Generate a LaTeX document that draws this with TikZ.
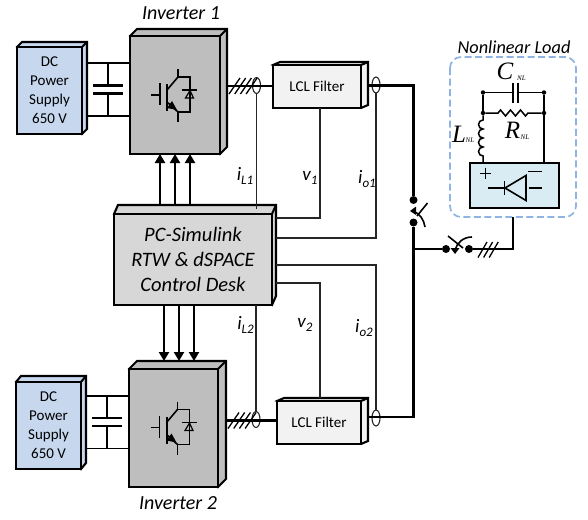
\documentclass[tikz,border=0pt]{standalone}
\usepackage{fontspec}
\setmainfont{Carlito}
\newfontfamily\serifnl{Liberation Serif}
\usetikzlibrary{arrows.meta,shapes.geometric}
\definecolor{dcblue}{RGB}{198,215,238}
\definecolor{invgray}{RGB}{190,190,190}
\definecolor{ctrlgray}{RGB}{215,215,215}
\definecolor{lclfill}{RGB}{242,242,242}
\definecolor{loadblue}{RGB}{143,180,228}
\definecolor{rectfill}{RGB}{218,236,243}
\newcommand{\sigsub}[2]{#1\raisebox{-3.5pt}{\fontsize{13}{13}\selectfont #2}}
\tikzset{
  x=1pt,y=-1pt,
  edge/.style={draw=black,line width=2.1pt,line join=miter},
  wire/.style={draw=black!85,line width=1.1pt},
  power/.style={draw=black,line width=2.1pt},
  thinp/.style={draw=black,line width=1.2pt},
  loadline/.style={draw=black,line width=1.5pt},
  sensor/.style={draw=black!85,line width=1.1pt,ellipse,minimum width=8pt,minimum height=16pt,inner sep=0pt,outer sep=0pt},
  dot/.style={circle,fill=black,inner sep=0pt,minimum size=8pt},
  smalldot/.style={circle,fill=black,inner sep=0pt,minimum size=4.5pt},
  arrowline/.style={draw=black,line width=2.1pt,-{Triangle[length=9pt,width=10pt]}},
  lab/.style={font=\fontsize{19}{19}\selectfont\itshape,inner sep=0pt},
  title/.style={font=\fontsize{20}{20}\selectfont\itshape,inner sep=0pt},
  nl/.style={font=\serifnl\itshape\fontsize{25}{25}\selectfont,inner sep=0pt},
  nlsub/.style={font=\serifnl\itshape\fontsize{7}{7}\selectfont,inner sep=0pt},
  loadbox/.style={draw=loadblue,line width=1.7pt,dash pattern=on 7pt off 3.5pt,rounded corners=11pt},
  blk/.style={font=\fontsize{15}{19}\selectfont},
  ctrltext/.style={font=\fontsize{20.5}{25}\selectfont\itshape},
}
% name, x0,y0,x1,y1, dx,dy, fill, text style; text in \boxtext
\newcommand{\threedbox}[9]{%
  \draw[edge,fill=#8] (#2,#3)--(#2+#6,#3-#7)--(#4+#6,#3-#7)--(#4+#6,#5-#7)--(#4,#5)--cycle;
  \draw[edge] (#4,#3)--(#4+#6,#3-#7);
  \node[edge,fill=#8,inner sep=0pt,outer sep=0pt,minimum width=#4pt-#2pt,minimum height=#5pt-#3pt,align=center,#9] (#1) at ({(#2+#4)/2},{(#3+#5)/2}) {\boxtext};
  \coordinate (#1-e) at (#4+#6,#3);
  \coordinate (#1-n) at (#2,#3-#7);
}
\newcommand{\igbt}[2]{%
  \begin{scope}[shift={(#1,#2)},line width=1.6pt]
    \draw (-21,6)--(-12,6);
    \draw (-12,-6)--(-12,16);
    \draw[line width=2pt] (-5,-5)--(-5,22);
    \draw (-5,1)--(6,-12);
    \draw (-5,13)--(6,23);
    \draw (6,-20)--(6,-12)--(18,-12)--(18,23)--(6,23)--(6,33);
    \fill (-5,19)--(0,12)--(5,21)--cycle;
    \draw (10,1)--(25,1);
    \draw[line width=1.2pt] (18,1.5)--(13.5,9)--(21.5,9)--cycle;
  \end{scope}}
\newcommand{\hatch}[2]{%
  \foreach \k in {0,1,2,3} \draw[line width=1.3pt] (#1+\k*5.7,#2+8)--(#1+\k*5.7+11,#2-8);}
\begin{document}
\begin{tikzpicture}
\useasboundingbox (0,0) rectangle (588,519);
% ---------- boxes
\def\boxtext{DC\\Power\\Supply\\650 V}
\threedbox{dc1}{17}{47}{82}{134}{5}{5}{dcblue}{blk}
\threedbox{dc2}{16}{382}{81}{469}{5}{6}{dcblue}{blk}
\def\boxtext{}
\threedbox{inv1}{130}{36}{220}{154}{7}{7}{invgray}{}
\threedbox{inv2}{129}{369}{218}{487}{8}{8}{invgray}{}
\def\boxtext{LCL Filter}
\threedbox{lcl1}{273}{65}{361}{108}{7}{3}{lclfill}{blk}
\threedbox{lcl2}{277}{401}{361}{444}{7}{3}{lclfill}{blk}
\def\boxtext{PC-Simulink\\RTW \& dSPACE\\Control Desk}
\threedbox{ctrl}{114}{214}{272}{305}{4}{9}{ctrlgray}{ctrltext}
% ---------- titles
\node[title] (t1) at (181,13) {Inverter 1};
\node[title] (t2) at (178,503) {Inverter 2};
% ---------- DC links with capacitors
\foreach \s/\xc/\ya/\yb in {1/108/63/116,2/107/396/448.5}{
  \draw[thinp] (dc\s-e |- 0,\ya)--(inv\s.west |- 0,\ya);
  \draw[thinp] (dc\s-e |- 0,\yb)--(inv\s.west |- 0,\yb);
  \draw[thinp] (\xc,\ya)--(\xc,{(\ya+\yb)/2-4});
  \draw[thinp] (\xc,\yb)--(\xc,{(\ya+\yb)/2+4});
  \draw[power] (\xc-15,{(\ya+\yb)/2-4})--(\xc+15,{(\ya+\yb)/2-4});
  \draw[power] (\xc-15,{(\ya+\yb)/2+4})--(\xc+15,{(\ya+\yb)/2+4});
}
\igbt{172}{89}
\igbt{171.5}{421.5}
% ---------- gate arrows
\foreach \x in {160,175,190} \draw[arrowline] (ctrl-n -| \x,0)--(inv1.south -| \x,0);
\foreach \x in {164,179,194} \draw[arrowline] (ctrl.south -| \x,0)--(inv2-n -| \x,0);
% ---------- sensors
\node[sensor] (s1) at (256.5,85.5) {};
\node[sensor] (s2) at (376,85) {};
\node[sensor] (s3) at (256,419.5) {};
\node[sensor] (s4) at (376,418) {};
% ---------- switches and junctions
\node[dot] (sw1a) at (413.5,200) {};
\node[dot] (sw1b) at (413.5,222.5) {};
\node[dot] (sw2a) at (446,249) {};
\node[dot] (sw2b) at (469,249) {};
\coordinate (bus1) at (413.5,85.5);
\coordinate (bus2) at (413.5,417);
\coordinate (busj) at (413.5,249);
% ---------- power paths
\draw[power] (inv1-e |- 0,86)--(lcl1.west |- 0,86);
\draw[power] (inv2-e |- 0,420.5)--(lcl2.west |- 0,420.5);
\draw[power] (lcl1-e |- bus1)--(bus1)--(sw1a);
\draw[power] (lcl2-e |- bus2)--(bus2)--(sw1b);
\draw[power] (busj)--(sw2a);
\hatch{229}{86}
\hatch{228}{420.5}
\foreach \k in {0,1,2} \draw[line width=1.3pt] (478+\k*5.6,257.5)--(487+\k*5.6,242);
% switch 1
\draw[line width=1.6pt] (427.5,203)--(417,216);
\draw[line width=1.6pt] (412,211) .. controls (420,213) and (424,220) .. (425,227);
\fill (410,211)--(416,206.5)--(416,215)--cycle;
% switch 2
\draw[line width=1.6pt] (448,236)--(463,248);
\draw[line width=1.6pt] (455,250) .. controls (457,243) and (463,237) .. (472,237);
\fill (455,254)--(450.5,248)--(459.5,248)--cycle;
% ---------- measurement wires
\draw[wire] (s1.south)--(s1.south |- 0,209);
\draw[wire] (lcl1.south -| 320,0)--(320,218)--(ctrl-e |- 0,218);
\draw[wire] (s2.south)--(376,238)--(ctrl-e |- 0,238);
\draw[wire] (s3.north)--(s3.north |- ctrl.south);
\draw[wire] (lcl2-n -| 320,0)--(320,283)--(ctrl-e |- 0,283);
\draw[wire] (s4.north)--(376,265)--(ctrl-e |- 0,265);
% ---------- signal labels
\node[lab] (il1) at (245,176) {\sigsub{i}{L1}};
\node[lab] (v1) at (310,178) {\sigsub{v}{1}};
\node[lab] (io1) at (367,179) {\sigsub{i}{o1}};
\node[lab] (il2) at (245.5,325) {\sigsub{i}{L2}};
\node[lab] (v2) at (305,325) {\sigsub{v}{2}};
\node[lab] (io2) at (364,328) {\sigsub{i}{o2}};
% ---------- nonlinear load
\node[font=\fontsize{18.3}{18.3}\selectfont\itshape,inner sep=0pt] (nltitle) at (514,47.5) {Nonlinear Load};
\draw[loadbox] (450,57) rectangle (576,217);
\node[edge,fill=rectfill,inner sep=0pt,outer sep=0pt,minimum width=89pt,minimum height=45pt] (rect) at (514.5,185.5) {};
\node[smalldot] (ct1) at (483,92.5) {};
\node[smalldot] (ct2) at (544,92.5) {};
\node[smalldot] (rt1) at (483,113) {};
\node[smalldot] (rt2) at (544,113) {};
\draw[loadline] (ct1)--(rt1);
\draw[loadline] (ct2)--(rt2);
\draw[loadline] (ct1)--(513,92.5);
\draw[loadline] (518,92.5)--(ct2);
\draw[line width=2pt] (513,83)--(513,102.5);
\draw[line width=2pt] (518,83)--(518,102.5);
\draw[loadline] (rt1)--(498,113)--(500.5,110)--(505.5,116)--(510.5,110)--(515.5,116)--(520.5,110)--(525.5,116)--(528,113)--(rt2);
\draw[loadline] (rt1)--(483,120)
  arc[start angle=-90,end angle=-270,radius=4.5]
  arc[start angle=-90,end angle=-270,radius=4.5]
  arc[start angle=-90,end angle=-270,radius=4.5]
  arc[start angle=-90,end angle=-270,radius=4.5]
  --(rect.north -| 483,0);
\draw[loadline] (rt2)--(rect.north -| rt2);
\node[nl] (cnl) at (505,71) {C};
\node[nlsub] (cnls) at (521.5,78.5) {NL};
\node[nl] (rnl) at (512.5,130) {R};
\node[nlsub] (rnls) at (525,137) {NL};
\node[nl] (lnl) at (459,134) {L};
\node[nlsub] (lnls) at (470,140.5) {NL};
\draw[line width=1pt] (480,173)--(491,173) (485.5,167.5)--(485.5,178.5);
\draw[line width=1pt] (528,171)--(542,171);
\draw[line width=1.6pt] (488,188)--(505,188);
\draw[line width=1.6pt] (504.5,181)--(504.5,194.5);
\draw[line width=1.6pt,line join=miter] (526,175.5)--(526,200.5)--(505,188)--cycle;
\draw[line width=1.6pt] (528.5,188)--(541.5,188);
% ---------- load connection
\draw[power] (sw2b)--(513,249)--(513,217);
\end{tikzpicture}
\end{document}
